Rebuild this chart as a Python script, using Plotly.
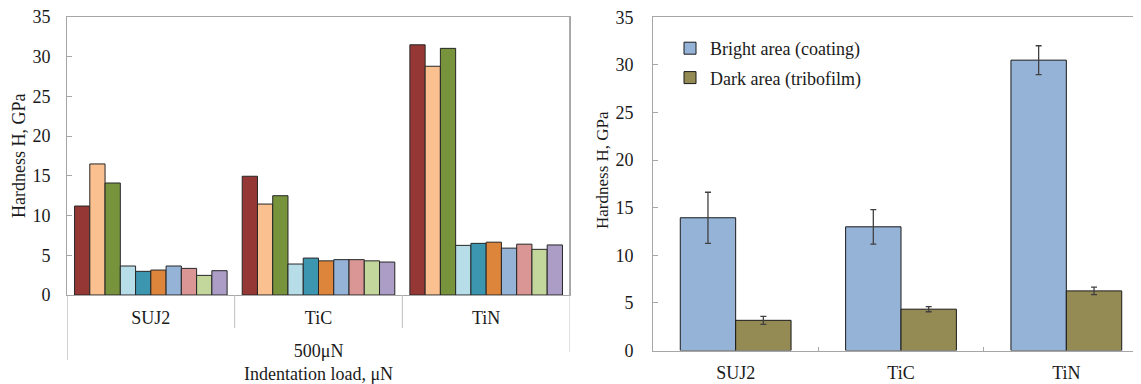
import plotly.graph_objects as go

# ---------------- data ----------------
categories = ["SUJ2", "TiC", "TiN"]

# Left panel: ten indentation series at 500 μN (values at SUJ2, TiC, TiN)
series_names = ["Indent 1", "Indent 2", "Indent 3", "Indent 4", "Indent 5",
                "Indent 6", "Indent 7", "Indent 8", "Indent 9", "Indent 10"]
s1 = [11.2, 14.95, 31.5]
s2 = [16.5, 11.45, 28.8]
s3 = [14.1, 12.5, 31.05]
s4 = [3.65, 3.9, 6.25]
s5 = [2.98, 4.65, 6.5]
s6 = [3.14, 4.3, 6.65]
s7 = [3.65, 4.45, 5.9]
s8 = [3.35, 4.45, 6.4]
s9 = [2.47, 4.3, 5.75]
s10 = [3.06, 4.15, 6.3]
left_series = [s1, s2, s3, s4, s5, s6, s7, s8, s9, s10]
left_colors = ["#953735", "#FAC090", "#77933C", "#B7DEE8", "#3C96B0",
               "#DE853C", "#95B3D7", "#D99694", "#C3D69B", "#AB9DC5"]

# Right panel: mean hardness with error bars
bright_name = "Bright area (coating)"
dark_name = "Dark area (tribofilm)"
bright_vals = [13.95, 13.0, 30.5]
bright_err = [2.68, 1.81, 1.51]
dark_vals = [3.18, 4.35, 6.27]
dark_err = [0.42, 0.27, 0.39]

y_ticks = [0, 5, 10, 15, 20, 25, 30, 35]

FONT = "Liberation Serif, Times New Roman, serif"
W, H = 1141, 384
OX, OY = 8, 8  # page body margin offset


def fx(p):
    return (p - OX) / W


def fy(p):
    return 1 - (p - OY) / H


AX = "#a6a6a6"

fig = go.Figure()

for name, vals, col in zip(series_names, left_series, left_colors):
    fig.add_trace(go.Bar(
        x=categories, y=vals, name=name, marker_color=col,
        marker_line=dict(color="#262626", width=1),
        xaxis="x", yaxis="y", showlegend=False,
    ))

fig.add_trace(go.Bar(
    x=categories, y=bright_vals, name=bright_name, marker_color="#95B3D7",
    marker_line=dict(color="#1a1a1a", width=1),
    error_y=dict(type="data", array=bright_err, color="#404040", thickness=1.3, width=3),
    offset=-0.335, width=0.335, xaxis="x2", yaxis="y2", legendgroup="a",
))
fig.add_trace(go.Bar(
    x=categories, y=dark_vals, name=dark_name, marker_color="#948A54",
    marker_line=dict(color="#1a1a1a", width=1),
    error_y=dict(type="data", array=dark_err, color="#404040", thickness=1.3, width=3),
    offset=0.0, width=0.335, xaxis="x2", yaxis="y2", legendgroup="b",
))

tickfont = dict(family=FONT, size=18, color="#1a1a1a")

fig.update_layout(
    template="none",
    width=W, height=H,
    autosize=False,
    margin=dict(l=0, r=0, t=0, b=0, pad=0),
    paper_bgcolor="white", plot_bgcolor="white",
    barmode="group", bargap=0.09, bargroupgap=0,
    font=dict(family=FONT, size=18, color="#1a1a1a"),
    xaxis=dict(domain=[fx(67), fx(570)], type="category", range=[-0.5, 2.5],
               automargin=False,
               showline=True, linecolor=AX, linewidth=1, mirror=True,
               ticks="", tickfont=tickfont, ticklabelstandoff=6,
               showgrid=False, zeroline=False, anchor="y"),
    yaxis=dict(domain=[fy(295), fy(17)], range=[0, 35], tickvals=y_ticks,
               automargin=False, ticklabeloverflow="allow",
               showline=True, linecolor=AX, linewidth=1, mirror=True,
               ticks="inside", ticklen=5, tickcolor=AX, tickfont=tickfont,
               ticklabelstandoff=12,
               showgrid=False, zeroline=False, anchor="x"),
    xaxis2=dict(domain=[fx(653), 1.0], type="category", range=[-0.5, 2.5],
                automargin=False,
                showline=True, linecolor=AX, linewidth=1, mirror=True,
                ticks="inside", tickson="boundaries", ticklen=4, tickcolor=AX,
                tickfont=tickfont, ticklabelstandoff=6,
                showgrid=False, zeroline=False, anchor="y2"),
    yaxis2=dict(domain=[fy(350.6), fy(17.3)], range=[0, 35], tickvals=y_ticks,
                automargin=False, ticklabeloverflow="allow",
                showline=True, linecolor=AX, linewidth=1,
                ticks="inside", ticklen=5, tickcolor=AX, tickfont=tickfont,
                ticklabelstandoff=15,
                showgrid=False, zeroline=False, anchor="x2"),
    legend=dict(x=fx(670), y=fy(30), xanchor="left", yanchor="top",
                bgcolor="rgba(0,0,0,0)", borderwidth=0, tracegroupgap=3,
                font=dict(family=FONT, size=18, color="#1a1a1a")),
    showlegend=True,
)

# Excel-style category dividers and outer lines on the left panel
div_color = "#bfbfbf"
shapes = [
    dict(type="line", xref="x", yref="paper", x0=-0.5, x1=-0.5,
         y0=fy(295), y1=fy(360), line=dict(color=AX, width=1)),
    dict(type="line", xref="x", yref="paper", x0=0.5, x1=0.5,
         y0=fy(295), y1=fy(328), line=dict(color=div_color, width=1)),
    dict(type="line", xref="x", yref="paper", x0=1.5, x1=1.5,
         y0=fy(295), y1=fy(328), line=dict(color=div_color, width=1)),
    dict(type="line", xref="x", yref="paper", x0=2.5, x1=2.5,
         y0=fy(295), y1=fy(352), line=dict(color=div_color, width=1)),
    dict(type="line", xref="x", yref="y domain", x0=2.5, x1=2.5,
         y0=0, y1=1, line=dict(color="#595959", width=1)),
]
fig.update_layout(shapes=shapes)

fig.add_annotation(text="500μN<br>Indentation load, μN", xref="paper", yref="paper",
                   x=fx(318.5), y=fy(362), xanchor="center", yanchor="middle",
                   showarrow=False, font=dict(family=FONT, size=18, color="#1a1a1a"))
fig.add_annotation(text="Hardness H, GPa", xref="paper", yref="paper",
                   x=fx(19), y=fy(156), xanchor="center", yanchor="middle",
                   textangle=-90, showarrow=False,
                   font=dict(family=FONT, size=18, color="#1a1a1a"))
fig.add_annotation(text="Hardness H, GPa", xref="paper", yref="paper",
                   x=fx(602), y=fy(170), xanchor="center", yanchor="middle",
                   textangle=-90, showarrow=False,
                   font=dict(family=FONT, size=17, color="#1a1a1a"))

fig.write_html("out.html")
